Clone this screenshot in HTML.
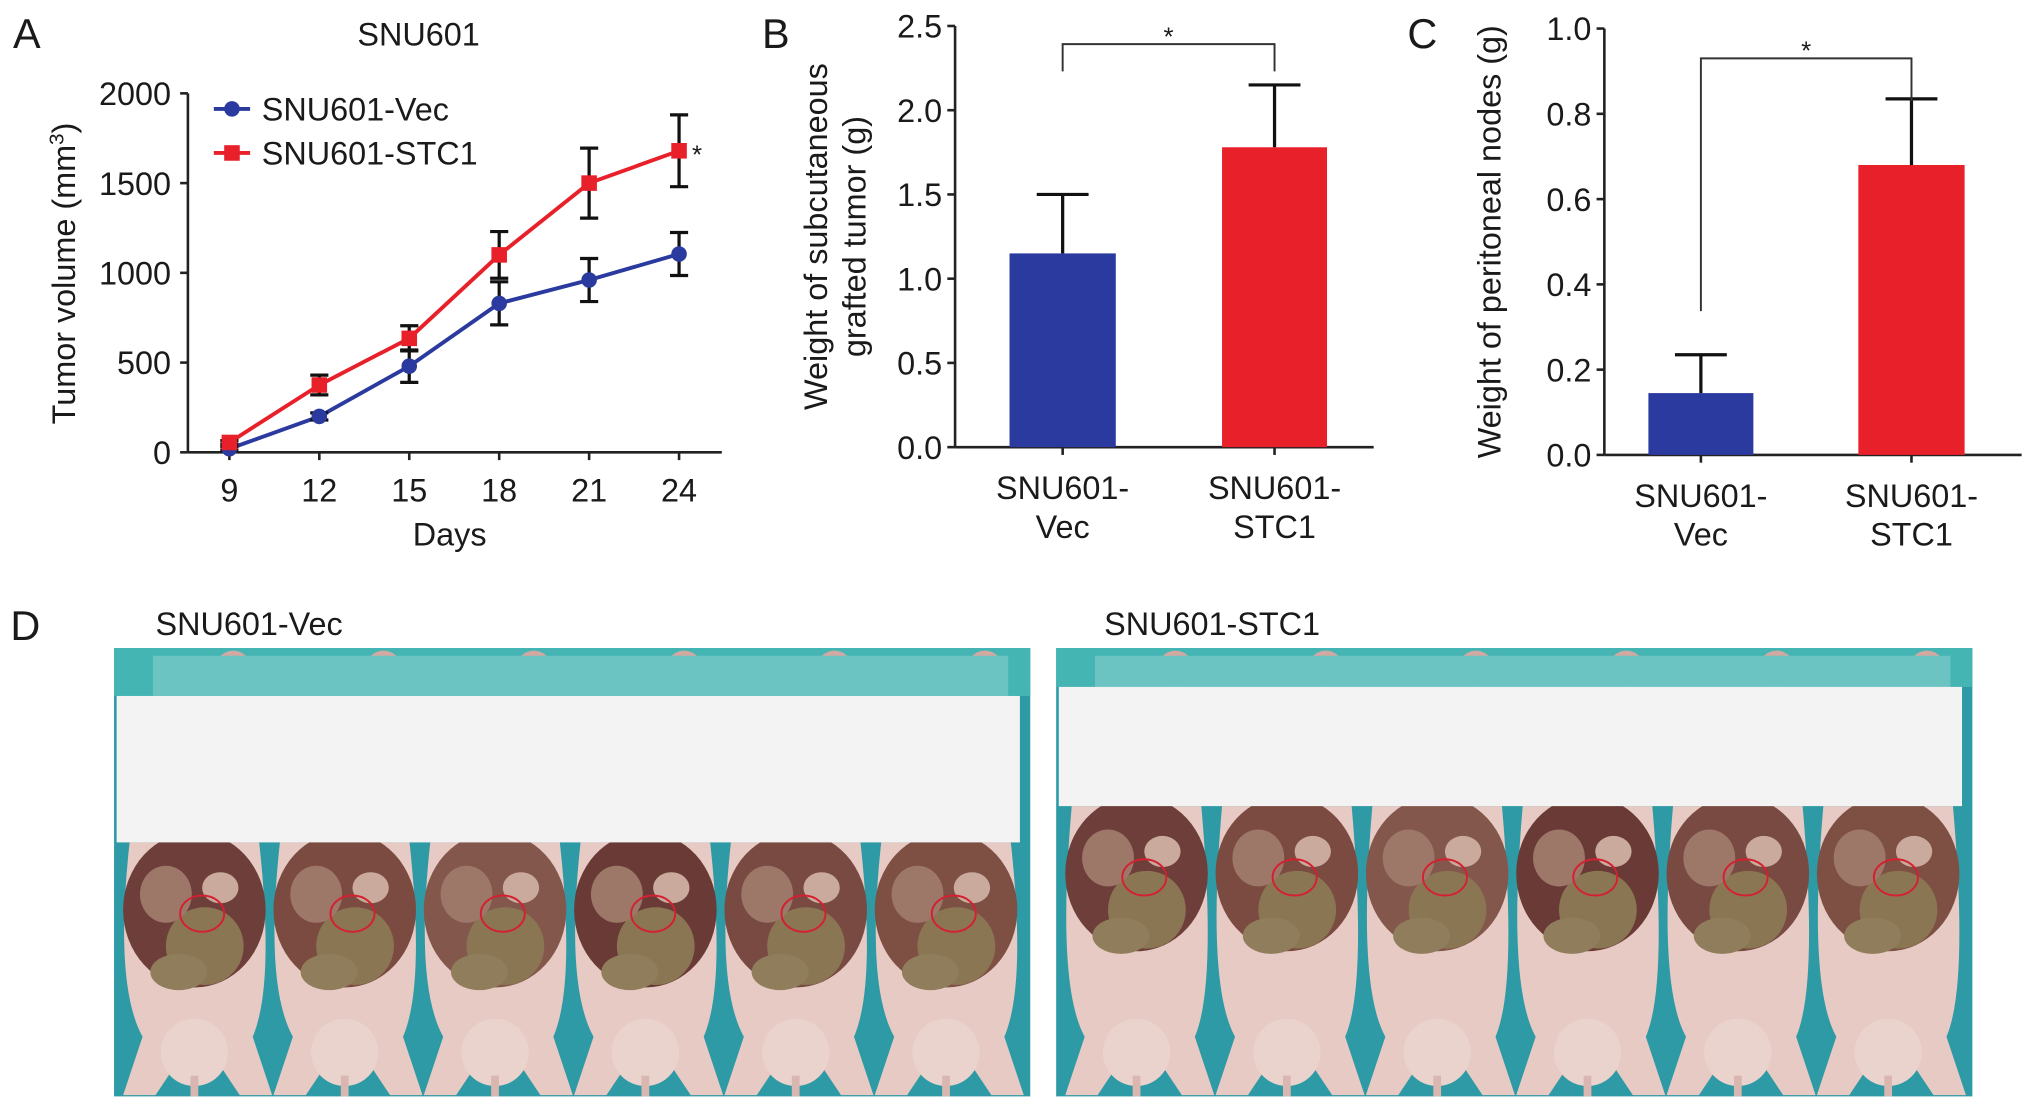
<!DOCTYPE html>
<html><head><meta charset="utf-8">
<style>
html,body{margin:0;padding:0;background:#fff;}
svg{display:block;}
text{font-family:"Liberation Sans",Arial,sans-serif;fill:#1a1a1a;}
</style></head>
<body>
<svg id="fig" width="2032" height="1112" viewBox="0 0 1568 858" xmlns="http://www.w3.org/2000/svg">
<g id="pa"></g>
<g id="pb"></g>
<g id="pc"></g>
<g id="pd"></g>
</svg>
<script>
// Panel A data
const daysA = [9, 12, 15, 18, 21, 24];
const vecVals = [20, 200, 480, 830, 960, 1105];
const vecErr = [10, 20, 90, 120, 120, 120];
const stcVals = [55, 375, 635, 1100, 1500, 1680];
const stcErr = [10, 55, 70, 130, 195, 200];
const yTicksA = [0, 500, 1000, 1500, 2000];
// Panel B data
const groupsB = ["Vec", "STC1"];
const valsB = [1.15, 1.78];
const errB = [0.35, 0.37];
const yTicksB = [0.0, 0.5, 1.0, 1.5, 2.0, 2.5];
// Panel C data
const valsC = [0.145, 0.68];
const errC = [0.09, 0.155];
const yTicksC = [0.0, 0.2, 0.4, 0.6, 0.8, 1.0];

const NS = "http://www.w3.org/2000/svg";
const FS = 25;
function mk(parent, tag, attrs, txt) {
  const e = document.createElementNS(NS, tag);
  for (const k in attrs) e.setAttribute(k, attrs[k]);
  if (txt !== undefined) e.textContent = txt;
  parent.appendChild(e);
  return e;
}
const BLUE = "#2b3a9e", RED = "#e8202a";

// ---------- Panel A ----------
(function(){
  const g = document.getElementById('pa');
  const x = d => 177 + (d - 9) * (524 - 177) / 15;
  const y = v => 349 - v * (349 - 72) / 2000;
  let t = mk(g,'text',{x:10,y:37,'font-size':32},'A');
  
  
  t = mk(g,'text',{x:323,y:35,'font-size':FS,'text-anchor':'middle'},'SNU601');
  
  
  mk(g,'line',{x1:145,y1:72,x2:145,y2:349,stroke:'#222','stroke-width':2});
  mk(g,'line',{x1:145,y1:349,x2:557,y2:349,stroke:'#222','stroke-width':2});
  yTicksA.forEach(v=>{
    mk(g,'line',{x1:139,y1:y(v),x2:145,y2:y(v),stroke:'#222','stroke-width':2});
    const l = mk(g,'text',{x:132,y:y(v)+9,'font-size':FS,'text-anchor':'end'},String(v));
    
    
  });
  daysA.forEach(d=>{
    mk(g,'line',{x1:x(d),y1:349,x2:x(d),y2:355,stroke:'#222','stroke-width':2});
    const l = mk(g,'text',{x:x(d),y:387,'font-size':FS,'text-anchor':'middle'},String(d));
    
    
  });
  t = mk(g,'text',{x:347,y:421,'font-size':FS,'text-anchor':'middle'},'Days');
  
  
  t = mk(g,'text',{transform:'translate(58,211) rotate(-90)','font-size':FS,'text-anchor':'middle'});
  t.innerHTML = 'Tumor volume (mm<tspan dy="-9" font-size="16">3</tspan><tspan dy="9">)</tspan>';
  
  
  function series(vals, errs, color, marker, name){
    const sg = mk(g,'g',{});
    
    
    mk(sg,'polyline',{points:daysA.map((d,i)=>x(d)+','+y(vals[i])).join(' '),fill:'none',stroke:color,'stroke-width':3});
    daysA.forEach((d,i)=>{
      const cx=x(d), top=y(vals[i]+errs[i]), bot=y(vals[i]-errs[i]);
      mk(sg,'line',{x1:cx,y1:top,x2:cx,y2:bot,stroke:'#111','stroke-width':2.5});
      mk(sg,'line',{x1:cx-7,y1:top,x2:cx+7,y2:top,stroke:'#111','stroke-width':2.5});
      mk(sg,'line',{x1:cx-7,y1:bot,x2:cx+7,y2:bot,stroke:'#111','stroke-width':2.5});
      let m;
      if(marker==='c') m = mk(sg,'circle',{cx:cx,cy:y(vals[i]),r:6,fill:color});
      else m = mk(sg,'rect',{x:cx-6,y:y(vals[i])-6,width:12,height:12,fill:color});
      
      
    });
  }
  series(vecVals, vecErr, BLUE, 'c', 'series-snu601-vec');
  series(stcVals, stcErr, RED, 's', 'series-snu601-stc1');
  mk(g,'text',{x:x(24)+10,y:y(stcVals[5])+10,'font-size':20},'*');
  const lg = mk(g,'g',{});
  
  
  mk(lg,'line',{x1:165,y1:84,x2:193,y2:84,stroke:BLUE,'stroke-width':3});
  mk(lg,'circle',{cx:179,cy:84,r:6,fill:BLUE});
  mk(lg,'text',{x:202,y:93,'font-size':FS},'SNU601-Vec');
  mk(lg,'line',{x1:165,y1:118,x2:193,y2:118,stroke:RED,'stroke-width':3});
  mk(lg,'rect',{x:173,y:112,width:12,height:12,fill:RED});
  mk(lg,'text',{x:202,y:127,'font-size':FS},'SNU601-STC1');
})();

// ---------- bar panels ----------
function barPanel(id, letter, lx, ax, x2, y0, yTop, tMax, ticks, vals, errs, bars, bracket, yTitle){
  const g = document.getElementById(id);
  const y = v => y0 - v*(y0-yTop)/tMax;
  let t = mk(g,'text',{x:lx,y:37,'font-size':32},letter);
  
  
  mk(g,'line',{x1:ax,y1:yTop,x2:ax,y2:y0,stroke:'#222','stroke-width':2});
  mk(g,'line',{x1:ax,y1:y0,x2:x2,y2:y0,stroke:'#222','stroke-width':2});
  ticks.forEach(v=>{
    mk(g,'line',{x1:ax-6,y1:y(v),x2:ax,y2:y(v),stroke:'#222','stroke-width':2});
    const l = mk(g,'text',{x:ax-10,y:y(v)+9,'font-size':FS,'text-anchor':'end'},v.toFixed(1));
    
    
  });
  const colors=[BLUE,RED];
  const cxs=[];
  vals.forEach((v,i)=>{
    const [bx,bw]=bars[i]; const cx=bx+bw/2; cxs.push(cx);
    const r = mk(g,'rect',{x:bx,y:y(v),width:bw,height:y0-y(v),fill:colors[i]});
    
    
    const top=y(v+errs[i]);
    mk(g,'line',{x1:cx,y1:y(v),x2:cx,y2:top,stroke:'#111','stroke-width':2.5});
    mk(g,'line',{x1:cx-20,y1:top,x2:cx+20,y2:top,stroke:'#111','stroke-width':2.5});
    mk(g,'line',{x1:cx,y1:y0,x2:cx,y2:y0+6,stroke:'#222','stroke-width':2});
    let l = mk(g,'text',{x:cx,y:y0+40,'font-size':FS,'text-anchor':'middle'},'SNU601-');
    
    
    mk(g,'text',{x:cx,y:y0+70,'font-size':FS,'text-anchor':'middle'},groupsB[i]);
  });
  const [by, l1, l2] = bracket;
  mk(g,'polyline',{points:`${cxs[0]},${l1} ${cxs[0]},${by} ${cxs[1]},${by} ${cxs[1]},${l2}`,fill:'none',stroke:'#333','stroke-width':1.5});
  t = mk(g,'text',{x:(cxs[0]+cxs[1])/2,y:by+1,'font-size':20,'text-anchor':'middle'},'*');
  
  
  t = mk(g,'text',{transform:`translate(${yTitle[0]},${(y0+yTop)/2}) rotate(-90)`,'font-size':FS,'text-anchor':'middle'});
  yTitle[1].forEach((s,i)=>mk(t,'tspan',{x:0,dy:i? 30:0},s));
  
  
}
barPanel('pb','B',588,737,1060,345,20,2.5,yTicksB,valsB,errB,[[779,82],[943,81]],[34,55,55],[638,['Weight of subcutaneous','grafted tumor (g)']]);
barPanel('pc','C',1086,1238,1560,351,22,1.0,yTicksC,valsC,errC,[[1272,81],[1434,82]],[45,240,78],[1158,['Weight of peritoneal nodes (g)']]);

// ---------- Panel D ----------
(function(){
  const g = document.getElementById('pd');
  let t = mk(g,'text',{x:8,y:494,'font-size':32},'D');
  
  
  mk(g,'text',{x:120,y:490,'font-size':FS},'SNU601-Vec');
  mk(g,'text',{x:852,y:490,'font-size':FS},'SNU601-STC1');
  function photo(x0, wy0, wy1, name){
    const pg = mk(g,'g',{});
    
    
    mk(pg,'rect',{x:x0,y:500,width:707,height:346,fill:'#2d9aa5'});
    mk(pg,'rect',{x:x0,y:500,width:707,height:wy0-500,fill:'#45b5b4'});
    const tones=['#6e3f3a','#7b4a40','#83574b','#6a3b36','#784a42','#7e5044'];
    for(let i=0;i<6;i++){
      const cx = x0+62+i*116;
      // body & legs
      mk(pg,'path',{d:`M${cx-50},${wy1} Q${cx-62},760 ${cx-40},800 L${cx-55},845 L${cx-30},845 L${cx-10},815 L${cx+15},815 L${cx+35},845 L${cx+60},845 L${cx+45},800 Q${cx+62},760 ${cx+50},${wy1} Z`,fill:'#e6cac3'});
      mk(pg,'ellipse',{cx:cx,cy:812,rx:26,ry:26,fill:'#ead3cd'});
      mk(pg,'rect',{x:cx-3,y:830,width:6,height:16,fill:'#d9b7b0'});
      // organs
      mk(pg,'ellipse',{cx:cx,cy:wy1+52,rx:55,ry:60,fill:tones[i]});
      mk(pg,'ellipse',{cx:cx+8,cy:wy1+80,rx:30,ry:30,fill:'#8a7653'});
      mk(pg,'ellipse',{cx:cx-22,cy:wy1+40,rx:20,ry:22,fill:'#9d7869'});
      mk(pg,'ellipse',{cx:cx+20,cy:wy1+35,rx:14,ry:12,fill:'#c9aa9c'});
      mk(pg,'ellipse',{cx:cx-12,cy:wy1+100,rx:22,ry:14,fill:'#8f7d5c'});
      mk(pg,'ellipse',{cx:cx+6,cy:wy1+55,rx:17,ry:14,fill:'none',stroke:'#d42030','stroke-width':1.5});
      // heads above
      mk(pg,'ellipse',{cx:cx+30,cy:516,rx:14,ry:14,fill:'#cfa9a2'});
    }
    // ruler
    mk(pg,'rect',{x:x0+30,y:506,width:660,height:wy0-506,fill:'#6cc4c2'});
    mk(pg,'rect',{x:x0+2,y:wy0,width:697,height:wy1-wy0,fill:'#f3f3f3'});
  }
  photo(88,537,650,'photo-vec');
  photo(815,530,622,'photo-stc1');
})();
</script>
</body></html>
